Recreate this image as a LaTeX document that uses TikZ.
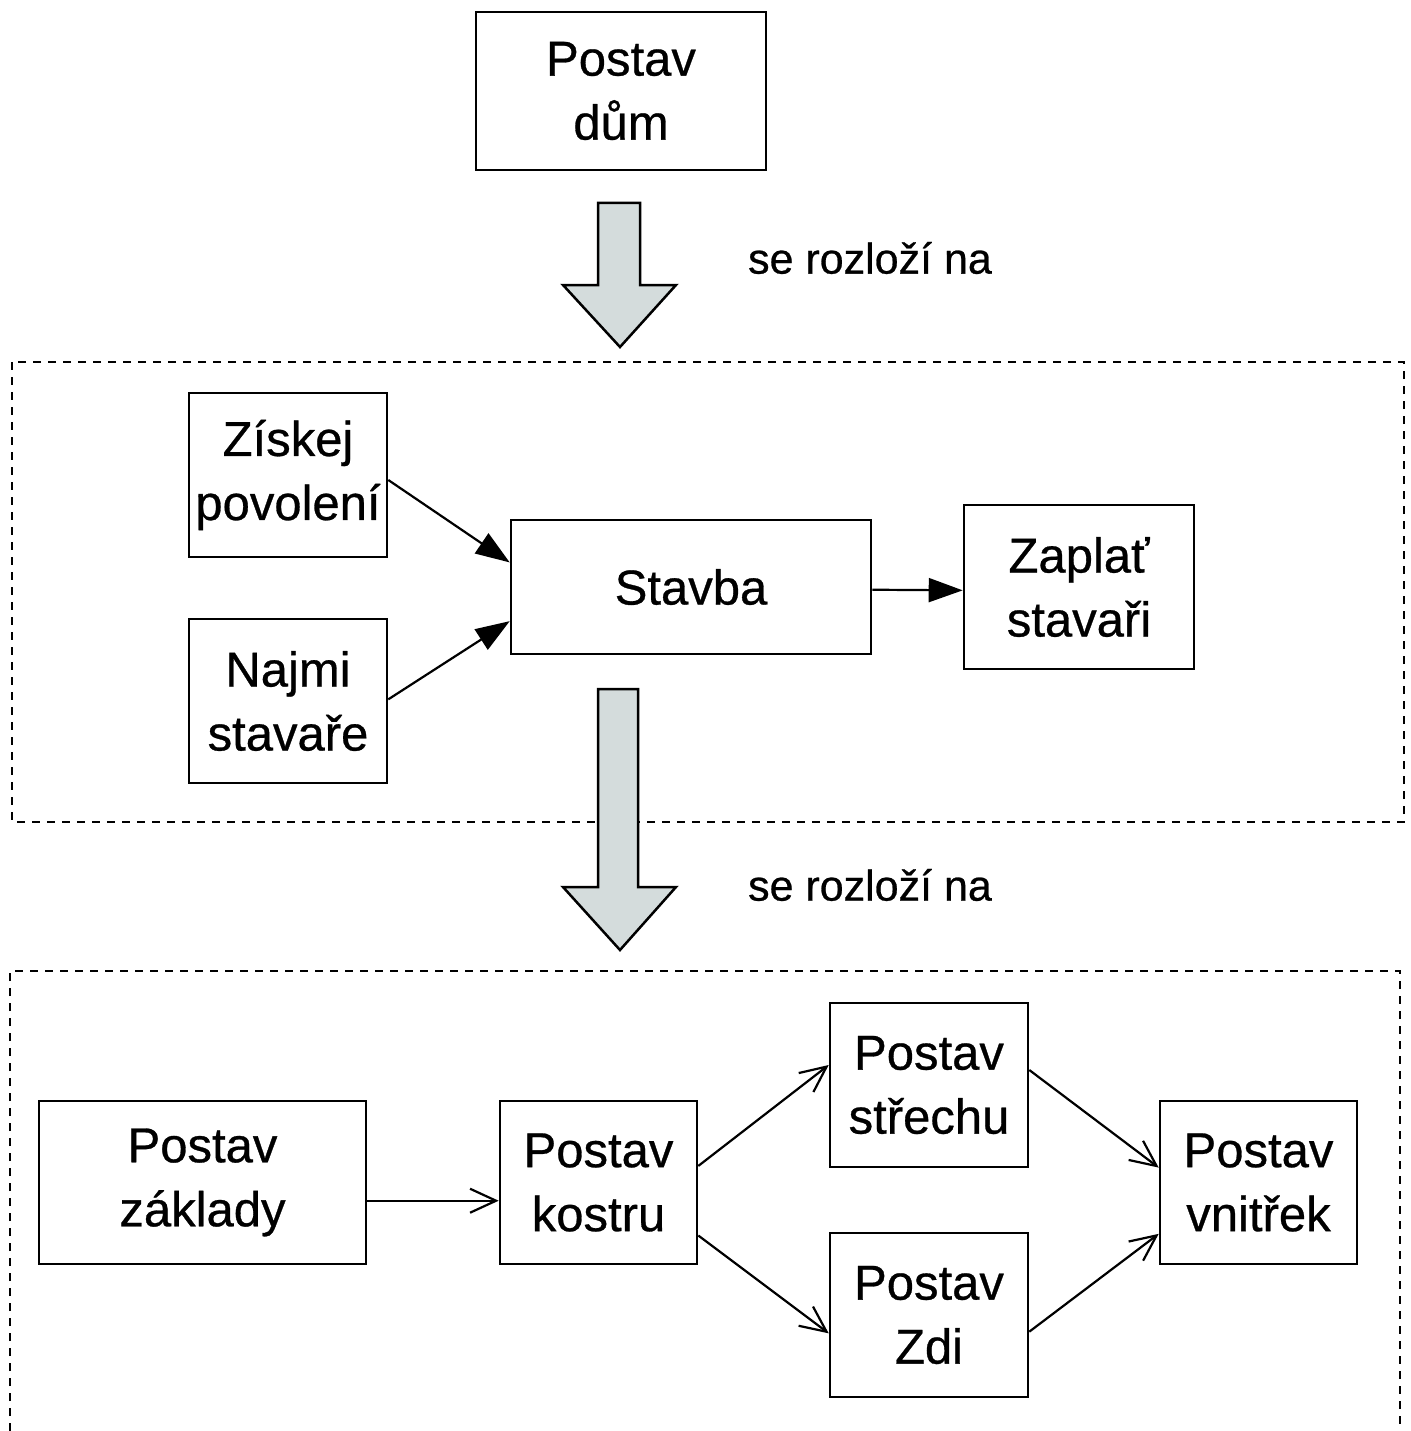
\documentclass[tikz,border=0pt]{standalone}
\usepackage{fontspec}
\setmainfont{Liberation Sans}[FakeBold=0.6]
\usetikzlibrary{arrows.meta,calc}
\definecolor{arrowfill}{RGB}{212,220,220}
\begin{document}
\begin{tikzpicture}[x=1pt,y=-1pt,
  box/.style={draw, line width=2.6pt, inner sep=0pt, align=center,
    font=\fontsize{49}{64}\selectfont},
  lbl/.style={inner sep=0pt, font=\fontsize{43}{50}\selectfont},
  frame/.style={draw, line width=2.2pt, dash pattern=on 8pt off 7pt},
  fat/.style={draw, line width=2.5pt, fill=arrowfill, line join=miter},
  solid arr/.style={line width=2.2pt, -{Triangle[length=34pt,width=24pt]}},
  open arr/.style={line width=2.2pt, -{Straight Barb[length=26pt,width=24pt,line width=2.2pt]}}]
\useasboundingbox (0,0) rectangle (1410,1431);
\fill[white] (0,0) rectangle (1410,1431);

% top
\node[box, minimum width=290pt, minimum height=158pt] (dum) at (621,91) {Postav\\dům};
\draw[fat] (598,203) -- (640,203) -- (640,285) -- (676,285) -- (620,347) -- (563,285) -- (598,285) -- cycle;
\node[lbl] (l1) at (870,258) {se rozloží na};

% first dashed frame
\draw[frame] (12,362) rectangle (1404,822);
\node[box, minimum width=198pt, minimum height=164pt] (zis) at (288,475) {Získej\\povolení};
\node[box, minimum width=198pt, minimum height=164pt] (naj) at (288,701) {Najmi\\stavaře};
\node[box, minimum width=360pt, minimum height=134pt] (stav) at (691,587) {Stavba};
\node[box, minimum width=230pt, minimum height=164pt] (zap) at (1079,587) {Zaplať\\stavaři};

\draw[solid arr] ($(zis.north east)!0.53!(zis.south east)$) -- ($(stav.north west)!0.32!(stav.south west)$);
\draw[solid arr] ($(naj.north east)!0.49!(naj.south east)$) -- ($(stav.north west)!0.75!(stav.south west)$);
\draw[solid arr] ($(stav.north east)!0.52!(stav.south east)$) -- ($(zap.north west)!0.52!(zap.south west)$);

\draw[fat] (598,689) -- (638,689) -- (638,887) -- (676,887) -- (620,950) -- (563,887) -- (598,887) -- cycle;
\node[lbl] (l2) at (870,885) {se rozloží na};

% second dashed frame (runs past the bottom edge)
\draw[frame] (10,1431) -- (10,971) -- (1400,971) -- (1400,1431);
\node[box, minimum width=327pt, minimum height=163pt] (zak) at (202.5,1182.5) {Postav\\základy};
\node[box, minimum width=197pt, minimum height=163pt] (kos) at (598.5,1182.5) {Postav\\kostru};
\node[box, minimum width=198pt, minimum height=164pt] (str) at (929,1085) {Postav\\střechu};
\node[box, minimum width=198pt, minimum height=164pt] (zdi) at (929,1315) {Postav\\Zdi};
\node[box, minimum width=197pt, minimum height=163pt] (vni) at (1258.5,1182.5) {Postav\\vnitřek};

\draw[open arr] ($(zak.north east)!0.61!(zak.south east)$) -- ($(kos.north west)!0.61!(kos.south west)$);
\draw[open arr] ($(kos.north east)!0.40!(kos.south east)$) -- ($(str.north west)!0.38!(str.south west)$);
\draw[open arr] ($(kos.north east)!0.82!(kos.south east)$) -- ($(zdi.north west)!0.61!(zdi.south west)$);
\draw[open arr] ($(str.north east)!0.41!(str.south east)$) -- ($(vni.north west)!0.41!(vni.south west)$);
\draw[open arr] ($(zdi.north east)!0.60!(zdi.south east)$) -- ($(vni.north west)!0.81!(vni.south west)$);
\end{tikzpicture}
\end{document}
